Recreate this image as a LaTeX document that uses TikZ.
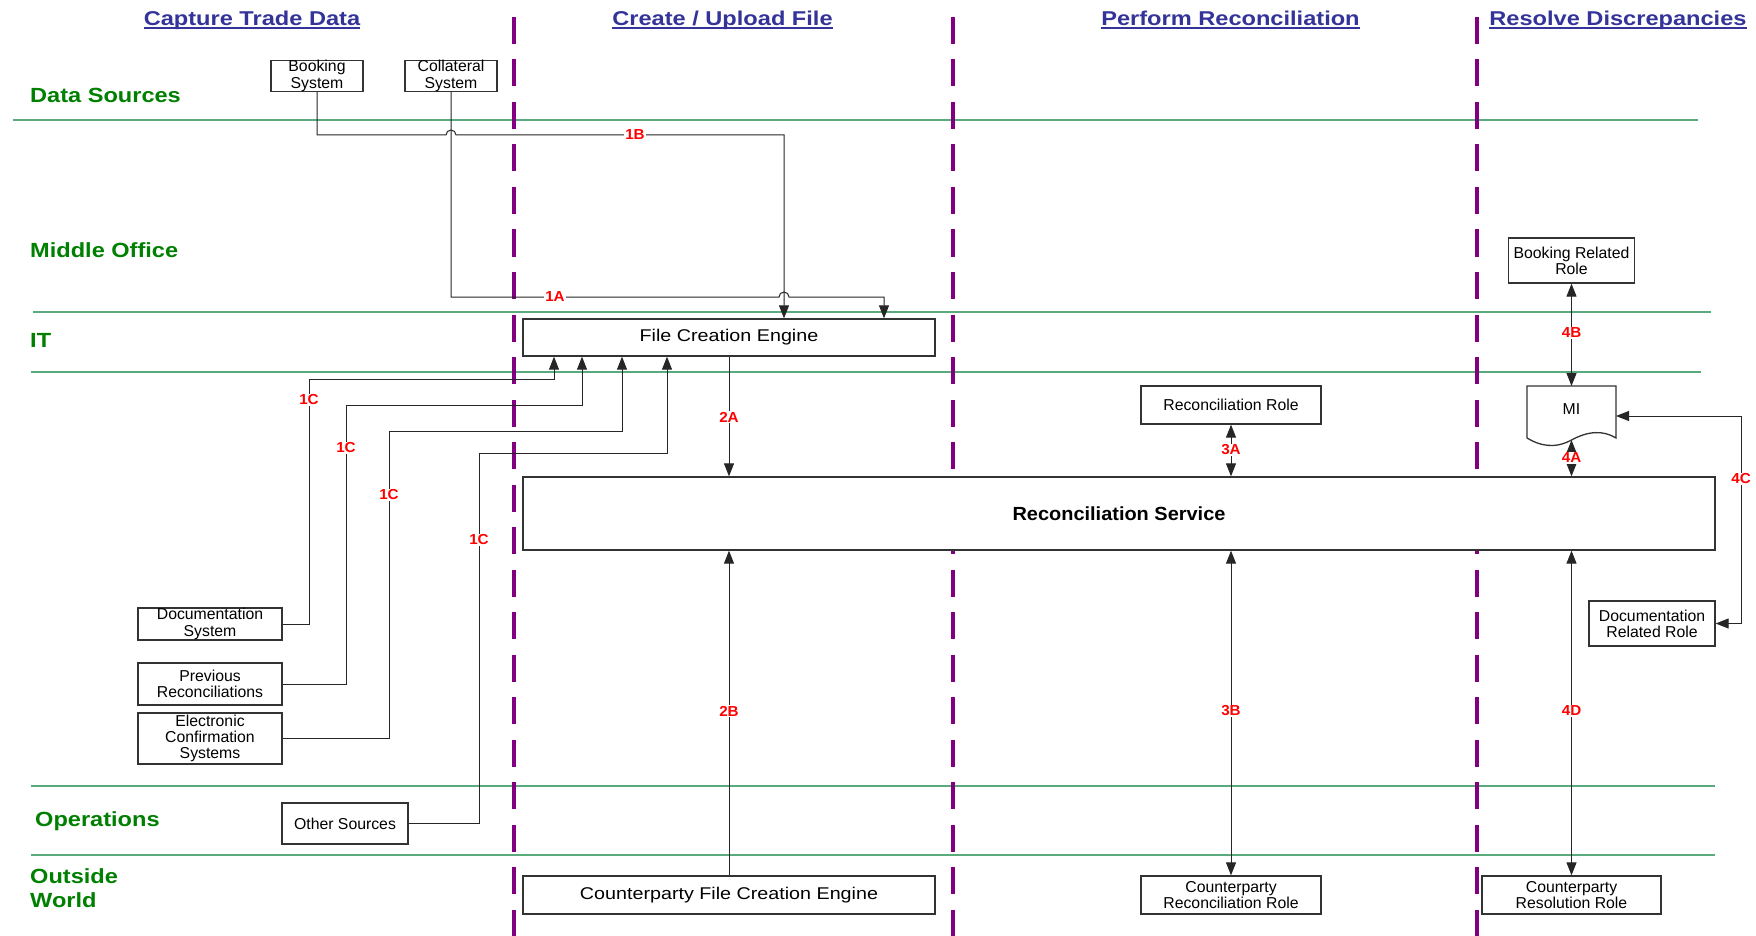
\documentclass[tikz,border=0pt]{standalone}
\usepackage{fontspec}
\setmainfont{Liberation Sans}
\newfontfamily\hdrfam{Liberation Sans}[FakeStretch=1.18]
\newfontfamily\lanefam{Liberation Sans}[FakeStretch=1.15]
\newfontfamily\enginefam{Liberation Sans}[FakeStretch=1.16]
\newfontfamily\servicefam{Liberation Sans}[FakeStretch=1.05]
\newfontfamily\tagfam{Liberation Sans}[FakeStretch=1.05]
\usetikzlibrary{arrows.meta}

\definecolor{hdrblue}{RGB}{51,51,153}
\definecolor{lanegreen}{RGB}{0,128,0}
\definecolor{lanerule}{RGB}{90,170,125}
\definecolor{phasepurple}{RGB}{128,0,128}
\definecolor{stepred}{RGB}{255,0,0}

\newcommand\boxfnt{\fontsize{15.8}{16.2}\selectfont}
\newcommand\enginefnt{\enginefam\fontsize{17}{19}\selectfont}
\newcommand\servicefnt{\servicefam\bfseries\fontsize{19}{22}\selectfont}
\newcommand\tagfnt{\tagfam\bfseries\fontsize{14.5}{16}\selectfont}
\newcommand\hdrfnt{\hdrfam\bfseries\fontsize{20}{23}\selectfont}
\newcommand\lanefnt{\lanefam\bfseries\fontsize{20.5}{24}\selectfont}

\begin{document}
\begin{tikzpicture}[x=1pt,y=-1pt,
  box/.style={draw=black!80, line width=1.3pt, fill=white, align=center,
    inner sep=0pt, font=\boxfnt},
  conn/.style={draw=black!85, line width=1pt},
  arr/.style={conn, -{Triangle[length=13pt,width=10pt]}},
  darr/.style={conn, {Triangle[length=13pt,width=10pt]}-{Triangle[length=13pt,width=10pt]}},
  tag/.style={font=\tagfnt, text=stepred, fill=white, inner sep=1pt},
  hdr/.style={font=\hdrfnt, text=hdrblue, anchor=base, inner sep=0pt},
  hdrline/.style={draw=hdrblue, line width=1.8pt},
  lane/.style={font=\lanefnt, text=lanegreen, anchor=base west, inner sep=0pt},
  lanesep/.style={draw=lanerule, line width=1.5pt},
  phase/.style={draw=phasepurple, line width=3.5pt, dash pattern=on 27pt off 15.5pt},
]
\useasboundingbox (0,0) rectangle (1756,936);
\fill[white] (0,0) rectangle (1756,936);

% swimlane separators
\draw[lanesep] (13,120) -- (1698,120);
\draw[lanesep] (33,312) -- (1711,312);
\draw[lanesep] (31,372) -- (1701,372);
\draw[lanesep] (31,786) -- (1715,786);
\draw[lanesep] (31,855) -- (1715,855);

% phase separators
\draw[phase] (514,17) -- (514,940);
\draw[phase] (953,17) -- (953,940);
\draw[phase] (1477,17) -- (1477,940);

% phase headings
\node[hdr] (hcap) at (252,26) {Capture Trade Data};
\node[hdr] (hcre) at (722.5,26) {Create / Upload File};
\node[hdr] (hper) at (1230.5,26) {Perform Reconciliation};
\node[hdr] (hres) at (1618,26) {Resolve Discrepancies};
\foreach \h in {hcap,hcre,hper,hres}
  \draw[hdrline] ([yshift=-1.8pt]\h.base west) -- ([yshift=-1.8pt]\h.base east);

% swimlane names
\node[lane] (lds) at (30,103) {Data Sources};
\node[lane] (lmo) at (30,257) {Middle Office};
\node[lane] (lit) at (30,347) {IT};
\node[lane] (lop) at (35,826) {Operations};
\node[lane] (low1) at (30,883) {Outside};
\node[lane] (low2) at (30,907) {World};

% systems and roles
\node[box, minimum width=92pt, minimum height=30pt] (boo) at (317,76) {Booking\\System};
\node[box, minimum width=92pt, minimum height=30pt] (col) at (451,76) {Collateral\\System};
\node[box, minimum width=412pt, minimum height=37pt, font=\enginefnt] (fce) at (729,337.5) {File Creation Engine};
\node[box, minimum width=126pt, minimum height=45pt] (brr) at (1571.5,260.5) {Booking Related\\Role};
\node[box, minimum width=180pt, minimum height=38pt] (rr) at (1231,405) {Reconciliation Role};
\node[box, minimum width=1192pt, minimum height=73pt, font=\servicefnt] (rs) at (1119,513.5) {Reconciliation Service};
\node[box, minimum width=144pt, minimum height=32pt] (ds) at (210,624) {Documentation\\System};
\node[box, minimum width=144pt, minimum height=42pt] (pr) at (210,684) {Previous\\Reconciliations};
\node[box, minimum width=144pt, minimum height=51pt] (ec) at (210,738.5) {Electronic\\Confirmation\\Systems};
\node[box, minimum width=126pt, minimum height=45pt] (drr) at (1652,623.5) {Documentation\\Related Role};
\node[box, minimum width=126pt, minimum height=41pt] (os) at (345,823.5) {Other Sources};
\node[box, minimum width=412pt, minimum height=38pt, font=\enginefnt] (cfce) at (729,895) {Counterparty File Creation Engine};
\node[box, minimum width=180pt, minimum height=38pt] (crr) at (1231,895) {Counterparty\\Reconciliation Role};
\node[box, minimum width=179pt, minimum height=38pt] (cres) at (1571.5,895) {Counterparty\\Resolution Role};

% MI document
\draw[draw=black!80, line width=1.3pt, fill=white]
  (1527,386) -- (1616,386) -- (1616,438)
  .. controls (1603,430) and (1588,431) .. (1571.5,440)
  .. controls (1555,449) and (1540,446) .. (1527,438) -- cycle;
\node[font=\boxfnt, inner sep=0pt] (mi) at (1571.5,409) {MI};
\coordinate (mitop) at (1571.5,386);
\coordinate (mibot) at (1571.5,440);
\coordinate (miright) at (1616,416);

% 1B / 1A: source systems to the file creation engine
\coordinate (b1) at (317,135);
\coordinate (b1hop) at (446,135);
\coordinate (b1end) at (784,135);
\draw[arr] (boo.south) -- (b1) -- (b1hop)
  arc[start angle=180, end angle=0, radius=5pt] -- (b1end) -- (fce.north -| b1end);
\coordinate (a1) at (451,297);
\coordinate (a1hop) at (779,297);
\coordinate (a1end) at (884,297);
\draw[arr] (col.south) -- (a1) -- (a1hop)
  arc[start angle=180, end angle=0, radius=5pt] -- (a1end) -- (fce.north -| a1end);

% 1C: further sources
\coordinate (d1) at (309,379);  \coordinate (d2) at (554,379);
\coordinate (p1) at (346,405);  \coordinate (p2) at (582,405);
\coordinate (e1) at (389,431);  \coordinate (e2) at (622,431);
\coordinate (o1) at (479,453);  \coordinate (o2) at (667,453);
\draw[arr] (ds.east) -| (d1) -- (d2) -- (fce.south -| d2);
\draw[arr] (pr.east) -| (p1) -- (p2) -- (fce.south -| p2);
\draw[arr] (ec.east) -| (e1) -- (e2) -- (fce.south -| e2);
\draw[arr] (os.east) -| (o1) -- (o2) -- (fce.south -| o2);

% 2: files into the reconciliation service
\draw[arr] (fce.south) -- (rs.north -| fce.south);
\draw[arr] (cfce.north) -- (rs.south -| cfce.north);

% 3: reconciliation roles
\draw[darr] (rr.south) -- (rs.north -| rr.south);
\draw[darr] (rs.south -| crr.north) -- (crr.north);

% 4: discrepancy resolution
\draw[darr] (brr.south) -- (brr.south |- mitop);
\draw[darr] (mibot) -- (rs.north -| mibot);
\coordinate (c4) at (1741,416);
\draw[darr] (miright) -- (c4) |- (drr.east);
\draw[darr] (rs.south -| cres.north) -- (cres.north);

% step tags
\node[tag] (t1b) at (635,135) {1B};
\node[tag] (t1a) at (555,297) {1A};
\node[tag] (t1c1) at (309,400) {1C};
\node[tag] (t1c2) at (346,448) {1C};
\node[tag] (t1c3) at (389,495) {1C};
\node[tag] (t1c4) at (479,540) {1C};
\node[tag] (t2a) at (729,417) {2A};
\node[tag] (t2b) at (729,711) {2B};
\node[tag] (t3a) at (1231,450) {3A};
\node[tag] (t3b) at (1231,711) {3B};
\node[tag] (t4b) at (1571.5,333) {4B};
\node[tag] (t4a) at (1571.5,458) {4A};
\node[tag] (t4c) at (1741,479) {4C};
\node[tag] (t4d) at (1571.5,711) {4D};
\end{tikzpicture}
\end{document}
